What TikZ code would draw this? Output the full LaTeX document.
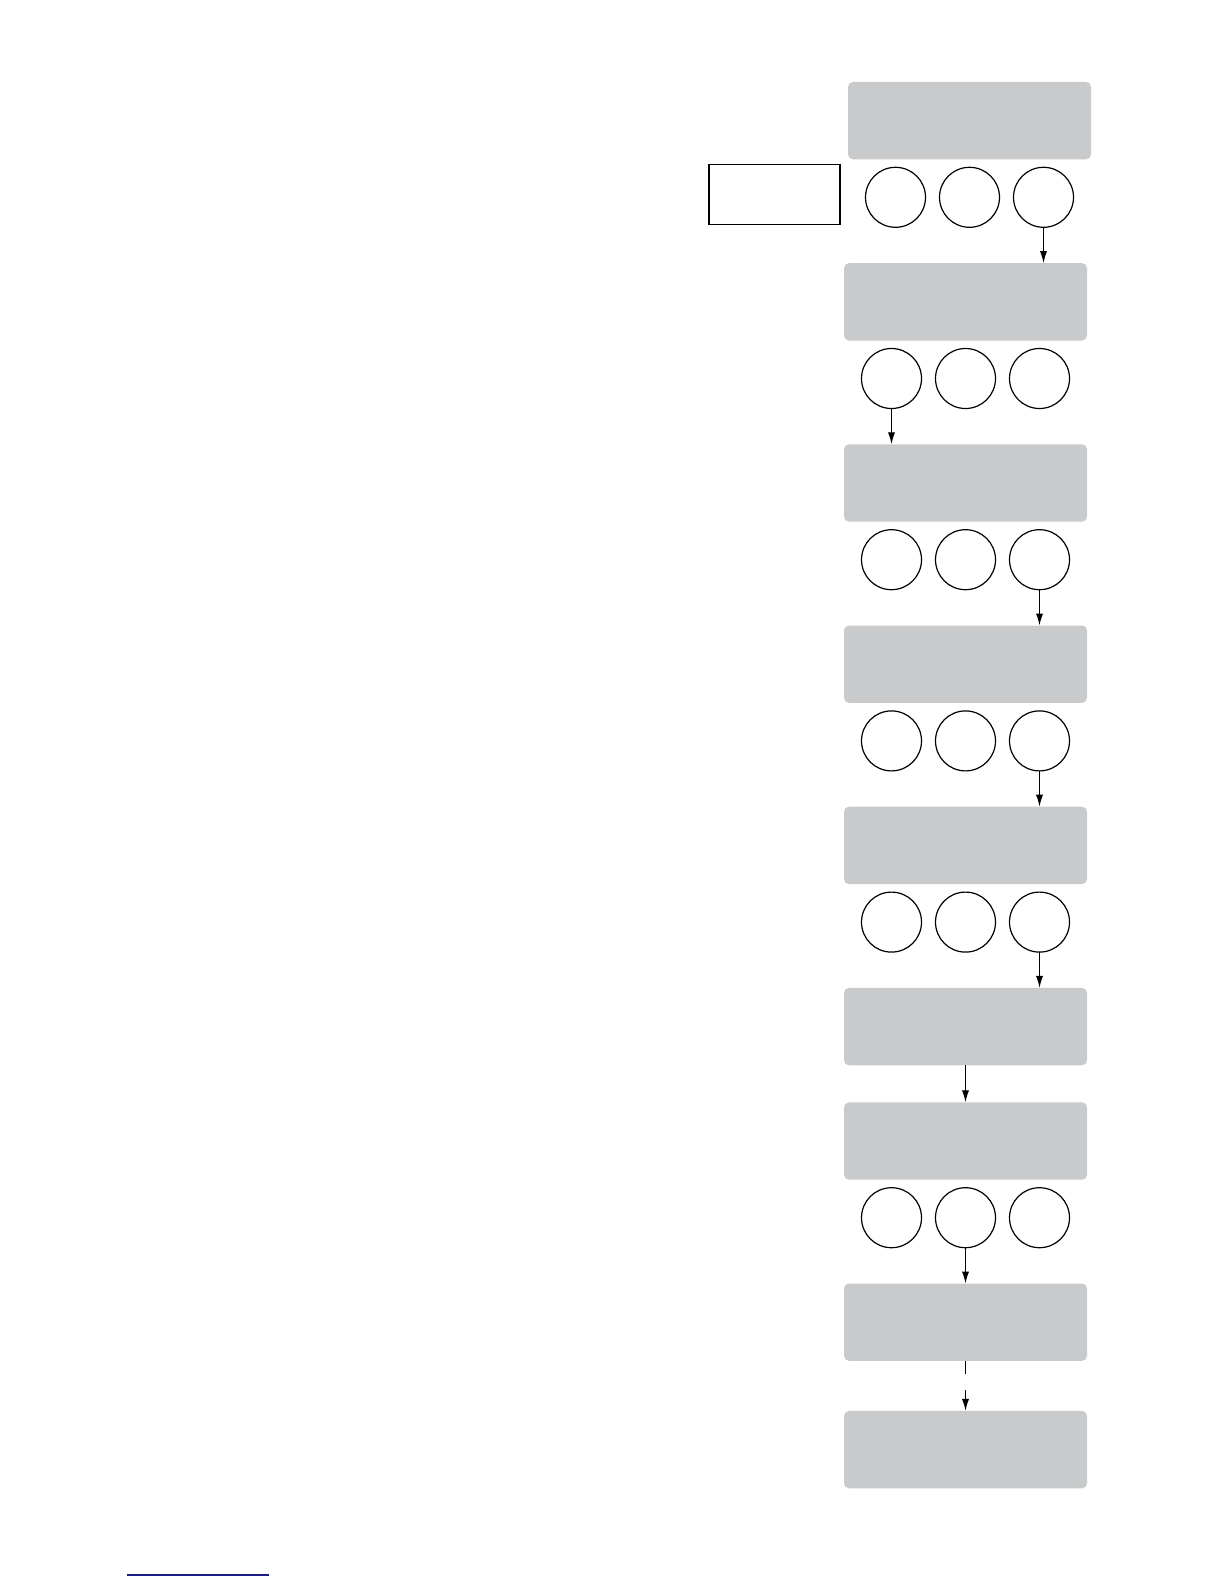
\documentclass[tikz,border=0pt]{standalone}
\usetikzlibrary{positioning,arrows.meta}
\definecolor{screengray}{RGB}{200,202,203}
\definecolor{linkblue}{RGB}{28,28,135}

\begin{document}
\begin{tikzpicture}[node distance=51.9pt and 7pt,
    screen/.style={rectangle, rounded corners=2.5pt, fill=screengray, minimum width=121.5pt, minimum height=38.7pt, inner sep=0pt, outer sep=0pt},
    key/.style={circle, draw, line width=0.6pt, minimum size=30pt, inner sep=0pt, outer sep=0pt},
    flow/.style={-{Latex[length=6pt,width=3.6pt]}, line width=0.65pt}]
            \useasboundingbox (0,0) rectangle (612pt,-792pt);

            % --- Screens ---
            \node[screen] (Scr1) at (484.75pt,-60.3pt) {};
            \node[screen] (Scr2) [below=of Scr1, xshift=-2pt] {};
            \node[screen] (Scr3) [below=of Scr2] {};
            \node[screen] (Scr4) [below=of Scr3] {};
            \node[screen] (Scr5) [below=of Scr4] {};
            \node[screen] (Scr6) [below=of Scr5] {};
            \node[screen] (Scr7) [below=18.5pt of Scr6] {};
            \node[screen] (Scr8) [below=of Scr7] {};
            \node[screen] (Scr9) [below=25pt of Scr8] {};

            % --- Keys under the screens ---
            \foreach \s in {1,2,3,4,5,7} {
                \node[key] (Key\s M) [below=4pt of Scr\s] {};
                \node[key] (Key\s L) [left=of Key\s M] {};
                \node[key] (Key\s R) [right=of Key\s M] {};
            }

            % --- Side box ---
            \node[rectangle, draw, line width=0.7pt, minimum width=65.5pt, minimum height=30pt, inner sep=0pt] (Side) [left=12.5pt of Key1L, yshift=1.5pt] {};

            % --- Connections ---
            \draw[flow] (Key1R) -- (Key1R |- Scr2.north);
            \draw[flow] (Key2L) -- (Key2L |- Scr3.north);
            \draw[flow] (Key3R) -- (Key3R |- Scr4.north);
            \draw[flow] (Key4R) -- (Key4R |- Scr5.north);
            \draw[flow] (Key5R) -- (Key5R |- Scr6.north);
            \draw[flow] (Scr6) -- (Scr7);
            \draw[flow] (Key7M) -- (Key7M |- Scr8.north);
            \draw[flow, dash pattern=on 6.5pt off 8pt on 30pt] (Scr8) -- (Scr9);

            % --- Underline at the foot ---
            \draw[linkblue, line width=0.6pt] (63.5pt,-787.5pt) -- (134.5pt,-787.5pt);
\end{tikzpicture}
\end{document}
